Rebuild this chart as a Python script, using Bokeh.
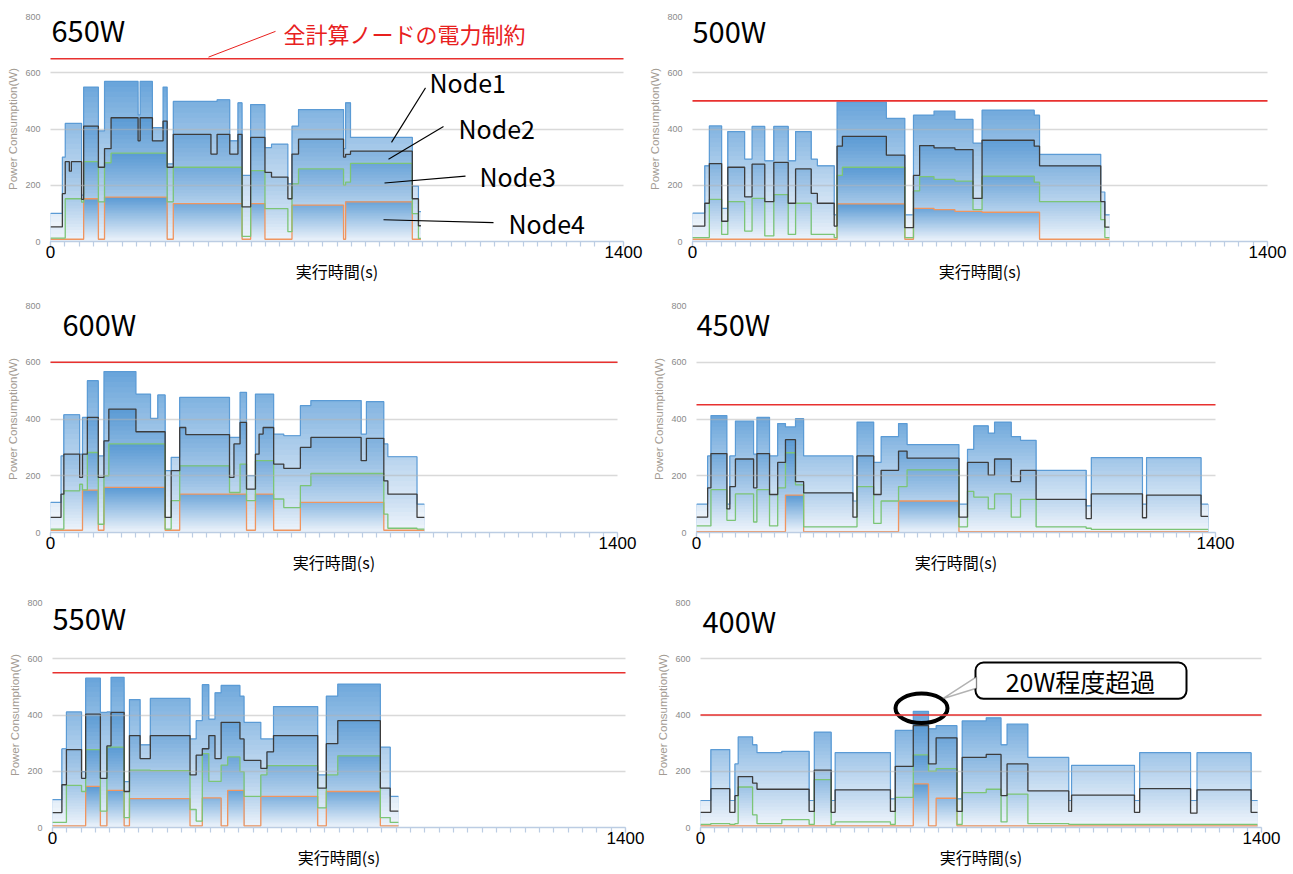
import numpy as np
from bokeh.plotting import figure
from bokeh.layouts import column, row
from bokeh.models import Range1d, FixedTicker, Label, Arrow, BoxAnnotation, PolyAnnotation
from bokeh.embed import file_html
from bokeh.resources import INLINE

# ---------------- texts / axes ----------------
X_MAX = 1400
Y_MAX = 800
Y_TICKS = [0, 200, 400, 600, 800]
X_TICKS = [0, 1400]
X_MINOR = list(range(0, 1401, 35))
Y_LABEL = "Power Consumption(W)"
X_LABEL = "実行時間(s)"
NODE_NAMES = ["Node1", "Node2", "Node3", "Node4"]
CAP_NOTE = "全計算ノードの電力制約"
OVER_NOTE = "20W程度超過"

# ---------------- data (stacked levels, W) ----------------
# t_* : segment start times (last entry = end time)
# total = Node1+2+3+4, n234 = Node2+3+4, n34 = Node3+4, n4 = Node4

t_650 = [0, 29, 36, 46, 51, 76, 81, 117, 132, 148, 214, 219, 249, 275, 285, 300, 392, 407, 438, 458, 468, 489, 524, 540, 580, 590, 606, 716, 721, 733, 884, 899, 905]
total_650 = [100, 300, 420, 420, 420, 165, 549, 393, 569, 569, 450, 569, 405, 549, 276, 498, 498, 504, 358, 493, 235, 487, 334, 346, 205, 410, 469, 330, 493, 370, 197, 106]
n234_650 = [52, 170, 284, 250, 284, 150, 410, 264, 330, 440, 358, 440, 358, 428, 264, 381, 311, 381, 311, 381, 123, 370, 246, 229, 152, 311, 364, 300, 310, 321, 152, 56]
n34_650 = [12, 12, 152, 152, 152, 140, 284, 141, 280, 314, 314, 314, 314, 314, 141, 264, 264, 264, 264, 264, 18, 252, 117, 117, 35, 205, 258, 200, 211, 278, 99, 11]
n4_650 = [8, 8, 8, 8, 8, 8, 152, 8, 158, 158, 158, 158, 158, 158, 8, 135, 135, 135, 135, 135, 8, 135, 8, 8, 8, 129, 129, 8, 141, 141, 8, 8]

t_500 = [0, 30, 41, 71, 86, 127, 145, 176, 198, 233, 251, 289, 304, 345, 352, 365, 472, 517, 538, 553, 588, 639, 683, 705, 832, 845, 994, 1004, 1015]
total_500 = [101, 269, 411, 118, 391, 293, 409, 287, 409, 287, 391, 293, 269, 95, 496, 496, 438, 95, 449, 449, 464, 434, 350, 467, 449, 310, 176, 95]
n234_500 = [55, 136, 277, 72, 264, 159, 275, 142, 281, 136, 258, 171, 136, 55, 339, 374, 307, 49, 235, 341, 333, 327, 153, 360, 339, 269, 142, 51]
n34_500 = [14, 14, 150, 25, 142, 37, 153, 20, 167, 25, 136, 25, 25, 14, 235, 264, 264, 14, 180, 231, 221, 215, 113, 232, 211, 142, 78, 14]
n4_500 = [8, 8, 8, 8, 8, 8, 8, 8, 8, 8, 8, 8, 8, 8, 134, 134, 134, 8, 118, 118, 113, 107, 107, 104, 104, 8, 8, 8]

t_600 = [0, 26, 33, 72, 79, 91, 118, 132, 144, 211, 247, 265, 283, 298, 319, 334, 442, 453, 468, 484, 506, 515, 525, 551, 576, 617, 643, 767, 780, 823, 833, 905, 923]
total_600 = [106, 270, 415, 276, 406, 535, 270, 567, 567, 488, 402, 485, 218, 265, 476, 476, 335, 335, 494, 200, 488, 488, 488, 347, 341, 447, 465, 347, 461, 312, 267, 100]
n234_600 = [53, 135, 276, 194, 276, 406, 194, 323, 435, 355, 355, 355, 53, 218, 370, 345, 194, 312, 388, 153, 276, 347, 370, 241, 226, 300, 335, 253, 332, 182, 135, 53]
n34_600 = [12, 12, 147, 170, 150, 282, 29, 200, 312, 312, 312, 312, 12, 112, 235, 235, 141, 141, 241, 112, 253, 253, 253, 118, 88, 165, 208, 208, 208, 65, 15, 12]
n4_600 = [8, 8, 8, 8, 149, 149, 8, 159, 159, 159, 159, 159, 8, 8, 135, 135, 135, 135, 135, 8, 135, 135, 135, 8, 8, 106, 106, 106, 106, 8, 8, 8]

t_450 = [0, 30, 39, 82, 90, 105, 154, 163, 197, 219, 240, 267, 289, 422, 433, 478, 498, 545, 568, 708, 731, 748, 787, 804, 849, 874, 916, 1051, 1065, 1203, 1214, 1361, 1380]
total_450 = [100, 270, 412, 100, 270, 393, 276, 406, 270, 384, 372, 401, 270, 111, 389, 247, 338, 384, 310, 100, 293, 376, 350, 389, 338, 325, 219, 94, 264, 100, 264, 100]
n234_450 = [54, 157, 278, 83, 162, 259, 157, 278, 134, 247, 327, 179, 140, 54, 270, 134, 219, 287, 262, 54, 247, 247, 202, 259, 179, 219, 117, 49, 136, 52, 132, 57]
n34_450 = [23, 23, 151, 43, 43, 136, 37, 151, 23, 157, 281, 168, 20, 20, 162, 32, 111, 162, 221, 20, 145, 125, 83, 136, 54, 117, 20, 15, 11, 11, 11, 11]
n4_450 = [3, 3, 3, 3, 3, 3, 3, 3, 3, 3, 132, 132, 3, 3, 3, 3, 3, 111, 111, 3, 3, 3, 3, 3, 3, 3, 3, 3, 3, 3, 3, 3]

t_550 = [0, 23, 34, 71, 81, 117, 133, 143, 175, 188, 214, 239, 336, 351, 366, 382, 397, 412, 428, 458, 468, 509, 524, 540, 648, 669, 697, 801, 825, 845]
total_550 = [99, 280, 411, 199, 531, 409, 411, 534, 163, 455, 294, 459, 315, 380, 508, 385, 479, 505, 505, 467, 374, 315, 315, 430, 187, 467, 510, 286, 111]
n234_550 = [53, 152, 277, 175, 403, 175, 290, 409, 128, 327, 245, 327, 187, 257, 280, 327, 245, 374, 374, 315, 239, 210, 269, 327, 140, 298, 380, 140, 58]
n34_550 = [18, 18, 150, 128, 277, 58, 286, 286, 35, 204, 204, 202, 64, 23, 263, 164, 164, 222, 251, 199, 111, 187, 220, 220, 70, 187, 255, 35, 18]
n4_550 = [6, 6, 6, 6, 146, 6, 132, 132, 6, 103, 103, 103, 6, 6, 105, 105, 105, 6, 132, 132, 6, 111, 111, 111, 6, 128, 128, 6, 6]

t_400 = [0, 26, 73, 86, 94, 130, 141, 203, 271, 284, 326, 336, 474, 486, 531, 569, 588, 640, 653, 713, 750, 765, 817, 919, 926, 1083, 1096, 1223, 1239, 1374, 1390]
total_400 = [96, 277, 96, 226, 322, 294, 266, 271, 96, 339, 96, 266, 102, 345, 413, 351, 362, 102, 379, 390, 294, 368, 249, 96, 221, 96, 266, 96, 266, 96]
n234_400 = [54, 138, 54, 113, 181, 158, 136, 136, 57, 204, 54, 134, 57, 217, 362, 226, 319, 57, 249, 260, 113, 226, 130, 57, 115, 54, 138, 51, 134, 54]
n34_400 = [11, 14, 11, 14, 144, 45, 14, 28, 11, 170, 11, 20, 11, 107, 258, 200, 209, 11, 124, 136, 20, 119, 14, 11, 11, 11, 11, 11, 11, 11]
n4_400 = [6, 6, 6, 6, 6, 6, 6, 6, 6, 6, 6, 6, 6, 6, 155, 6, 104, 6, 6, 6, 6, 6, 6, 6, 6, 6, 6, 6, 6, 6]

PANELS = [
    ("650W", 650, t_650, total_650, n234_650, n34_650, n4_650),
    ("500W", 500, t_500, total_500, n234_500, n34_500, n4_500),
    ("600W", 600, t_600, total_600, n234_600, n34_600, n4_600),
    ("450W", 450, t_450, total_450, n234_450, n34_450, n4_450),
    ("550W", 550, t_550, total_550, n234_550, n34_550, n4_550),
    ("400W", 400, t_400, total_400, n234_400, n34_400, n4_400),
]

# ---------------- layout (page pixels) ----------------
GEOM = {
    650: dict(fig=(0, 0, 645, 290), frame=(50, 623, 16, 243), title=(51, 29)),
    500: dict(fig=(645, 0, 1292, 290), frame=(692, 1267, 11, 241), title=(692, 25)),
    600: dict(fig=(0, 290, 645, 580), frame=(50, 617, 305, 532), title=(62, 322)),
    450: dict(fig=(645, 290, 1292, 580), frame=(696, 1215, 301, 536), title=(696, 319)),
    550: dict(fig=(0, 580, 645, 873), frame=(52, 625, 602, 830), title=(52, 617)),
    400: dict(fig=(645, 580, 1292, 873), frame=(700, 1261, 591, 827), title=(702, 609)),
}

JP = "Noto Sans CJK JP"
LIGHT = (238, 244, 251)
DARKS = [(104, 164, 218), (90, 154, 212), (90, 154, 212), (90, 154, 212)]  # Node1..Node4 bands
K = 28


def px2d(g, x, y):
    L, R, T, B = g["frame"]
    return (x - L) / (R - L) * X_MAX, (B - y) / (B - T) * Y_MAX


def hexcol(c):
    return "#%02x%02x%02x" % c


def gradient_band(p, t, lo, up, dark):
    bmin, bmax = float(lo.min()), float(up.max())
    for k in range(K, 0, -1):
        thr = bmin + (bmax - bmin) * k / K
        f = (k - 0.5) / K
        col = tuple(int(round(LIGHT[i] + (dark[i] - LIGHT[i]) * f)) for i in range(3))
        p.varea_step(x=t, y1=np.minimum(lo, thr), y2=np.minimum(up, thr),
                     step_mode="after", fill_color=hexcol(col), fill_alpha=1.0)


def label(p, g, x, y, text, size, color="black", align="left", font=JP):
    dx, dy = px2d(g, x, y)
    p.add_layout(Label(x=dx, y=dy, text=text, text_font=font, text_font_size=size,
                       text_color=color, text_align=align, text_baseline="middle"))


def line_px(p, g, a, b, color, width):
    x0, y0 = px2d(g, *a)
    x1, y1 = px2d(g, *b)
    p.add_layout(Arrow(end=None, x_start=x0, y_start=y0, x_end=x1, y_end=y1,
                       line_color=color, line_width=width))


figs = {}
for name, cap, t_l, tot_l, n234_l, n34_l, n4_l in PANELS:
    g = GEOM[cap]
    fx0, fy0, fx1, fy1 = g["fig"]
    L, R, T, B = g["frame"]
    p = figure(width=fx1 - fx0, height=fy1 - fy0,
               x_range=Range1d(0, X_MAX), y_range=Range1d(0, Y_MAX),
               output_backend="svg", toolbar_location=None,
               min_border_left=L - fx0, min_border_right=fx1 - R,
               min_border_top=T - fy0, min_border_bottom=fy1 - B)
    p.outline_line_color = None
    p.background_fill_color = "white"
    p.border_fill_color = "white"

    # y axis
    p.yaxis.ticker = FixedTicker(ticks=Y_TICKS)
    p.yaxis.axis_line_color = None
    p.yaxis.major_tick_out = 0
    p.yaxis.major_tick_in = 0
    p.yaxis.minor_tick_out = 0
    p.yaxis.major_tick_line_color = None
    p.yaxis.minor_tick_line_color = None
    p.yaxis.major_label_text_font = "Liberation Sans"
    p.yaxis.major_label_text_font_size = "9px"
    p.yaxis.major_label_text_color = "#8a8a8a"
    p.yaxis.major_label_standoff = 10
    p.yaxis.axis_label = Y_LABEL
    p.yaxis.axis_label_text_font = "Liberation Sans"
    p.yaxis.axis_label_text_font_size = "11.5px"
    p.yaxis.axis_label_text_font_style = "normal"
    p.yaxis.axis_label_text_color = "#a39b93"
    p.yaxis.axis_label_standoff = 3

    # x axis
    p.xaxis.ticker = FixedTicker(ticks=X_TICKS, minor_ticks=X_MINOR)
    p.xaxis.axis_line_color = "#bccde3"
    p.xaxis.axis_line_width = 1.5
    p.xaxis.major_tick_line_color = "#bccde3"
    p.xaxis.major_tick_line_width = 1.2
    p.xaxis.major_tick_out = 5
    p.xaxis.major_tick_in = 0
    p.xaxis.minor_tick_line_color = "#bccde3"
    p.xaxis.minor_tick_line_width = 1.2
    p.xaxis.minor_tick_out = 5
    p.xaxis.minor_tick_in = 0
    p.xaxis.major_label_text_font = "Liberation Sans"
    p.xaxis.major_label_text_font_size = "17px"
    p.xaxis.major_label_text_color = "black"
    p.xaxis.major_label_standoff = -1
    p.xaxis.axis_label = X_LABEL
    p.xaxis.axis_label_text_font = JP
    p.xaxis.axis_label_text_font_size = "16px"
    p.xaxis.axis_label_text_font_style = "normal"
    p.xaxis.axis_label_text_color = "black"
    p.xaxis.axis_label_standoff = -2

    # grid lines show faintly through the filled areas
    p.xgrid.visible = False
    p.ygrid.grid_line_color = "#b4b4b4"
    p.ygrid.grid_line_alpha = 0.5
    p.ygrid.grid_line_width = 1.5
    p.ygrid.level = "annotation"

    t = np.array(t_l, dtype=float)
    ext = lambda a: np.append(np.array(a, dtype=float), a[-1])
    total, n234, n34, n4 = ext(tot_l), ext(n234_l), ext(n34_l), ext(n4_l)
    zero = np.zeros_like(t)

    bands = [(n234, total), (n34, n234), (n4, n34), (zero, n4)]
    for (lo, up), dark in zip(bands, DARKS):
        gradient_band(p, t, lo, up, dark)

    p.step(t, total, mode="after", line_color="#5b9bd5", line_width=1.2)
    p.step(t, n4, mode="after", line_color="#f0955f", line_width=1.3)
    p.step(t, n34, mode="after", line_color="#7cc576", line_width=1.3)
    p.step(t, n234, mode="after", line_color="#3c3c3c", line_width=1.3)

    # power-cap red line
    p.add_layout(Arrow(end=None, x_start=-50, y_start=cap, x_end=X_MAX + 50, y_end=cap,
                       line_color="#e8312f", line_width=1.6))

    label(p, g, g["title"][0], g["title"][1], name, "29px")
    figs[cap] = p

# ---- annotations on 650 W panel ----
p, g = figs[650], GEOM[650]
label(p, g, 283, 33, CAP_NOTE, "22px", color="#e8201e")
line_px(p, g, (208, 57), (275, 31), "#e8201e", 1)
node_pos = [(429, 82), (458, 128), (479, 177), (508, 224)]
node_lines = [((391, 143), (425, 88)), ((388, 160), (443, 127)),
              ((384, 184), (465, 177)), ((383, 221), (493, 224))]
for nm, (x, y), (a, b) in zip(NODE_NAMES, node_pos, node_lines):
    line_px(p, g, a, b, "black", 1.1)
    label(p, g, x, y, nm, "25px")

# ---- annotations on 400 W panel ----
p, g = figs[400], GEOM[400]
L, R, T, B = g["frame"]
sx = X_MAX / (R - L)
sy = Y_MAX / (B - T)
ex, ey = px2d(g, 921, 702)
p.ellipse(x=[ex], y=[ey], width=[52 * sx], height=[31 * sy], fill_color=None,
          line_color="black", line_width=4)
bl, bt = px2d(g, 975, 654)
br, bb = px2d(g, 1186, 692)
p.add_layout(BoxAnnotation(left=bl, right=br, top=bt, bottom=bb, fill_color="white", fill_alpha=1.0,
                           line_color="black", line_width=2, line_alpha=1.0, border_radius=8))
tail = [px2d(g, 976, 669), px2d(g, 942, 692), px2d(g, 976, 681)]
p.add_layout(PolyAnnotation(xs=[q[0] for q in tail], ys=[q[1] for q in tail], fill_color="white",
                            fill_alpha=1.0, line_color="black", line_width=1.5))
label(p, g, 1080, 673, OVER_NOTE, "25px", align="center")

layout = column(row(figs[650], figs[500]), row(figs[600], figs[450]), row(figs[550], figs[400]))

open("out.html", "w").write(file_html(layout, INLINE, "power"))
